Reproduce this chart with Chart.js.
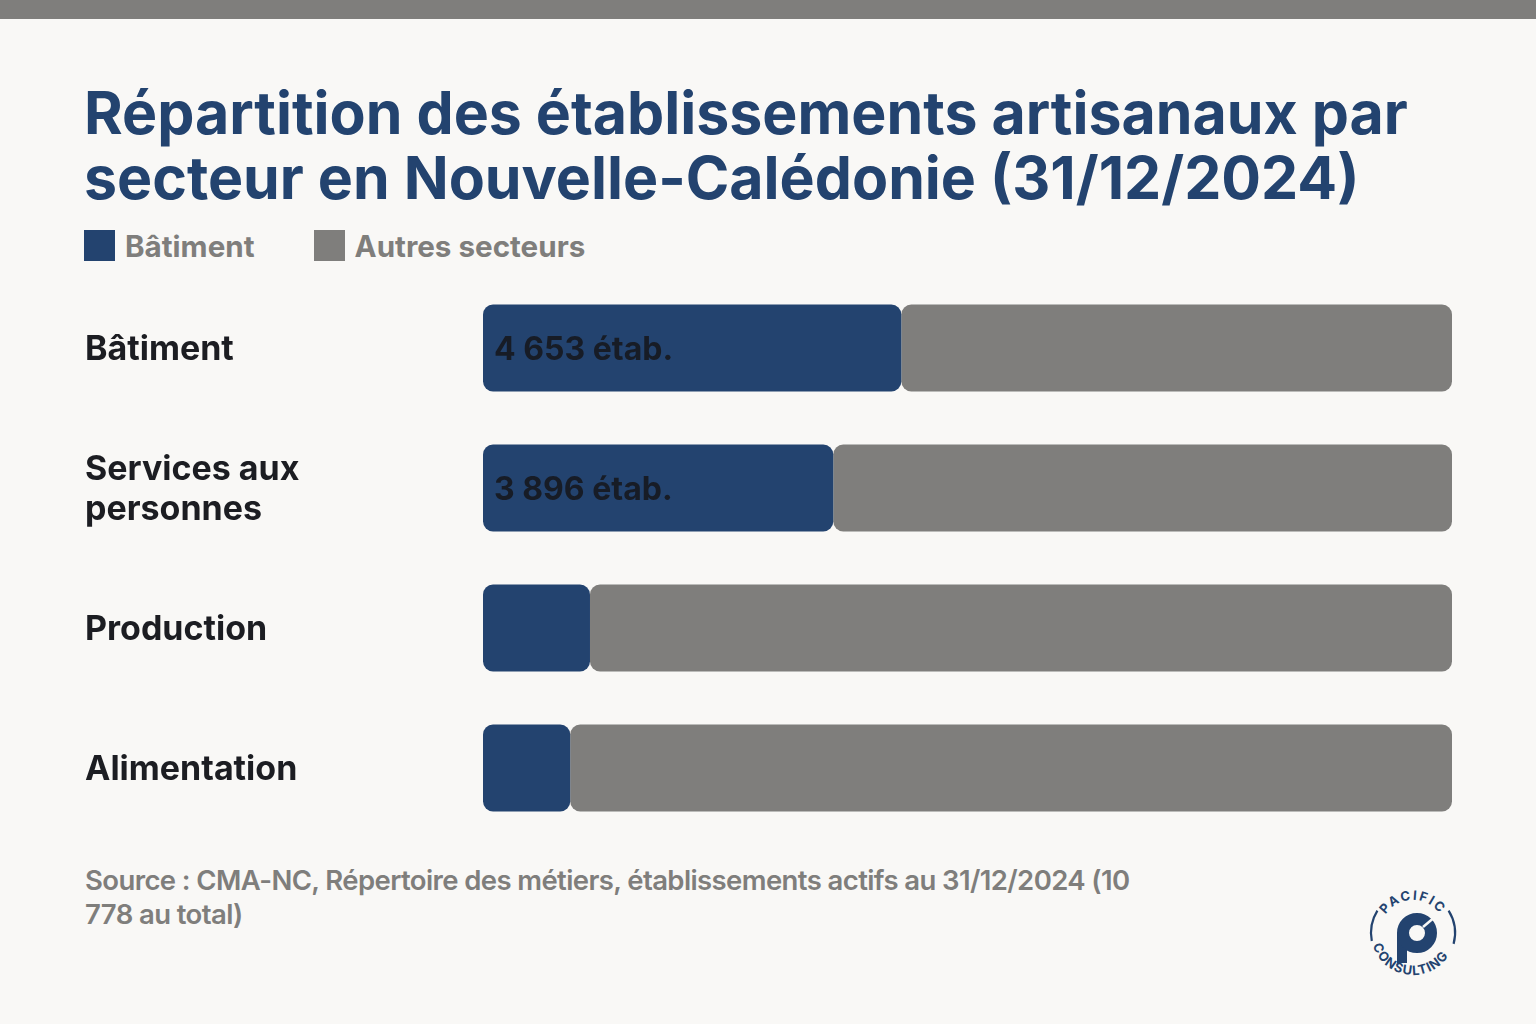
<!DOCTYPE html>
<html lang="fr">
<head>
<meta charset="utf-8">
<script src="https://cdn.jsdelivr.net/npm/chart.js@4.4.1/dist/chart.umd.min.js"></script>
<style>
  body { margin: 0; width: 1536px; height: 1024px; background: #f9f8f6; font-family: Inter, "Noto Sans", sans-serif; position: relative; overflow: hidden; }
  .bande { position: absolute; left: 0; top: 0; width: 1536px; height: 19px; background: #7f7e7c; }
  h1 { position: absolute; left: 84px; top: 80px; margin: 0; font-size: 59px; line-height: 65px; font-weight: 700; color: #23436f; white-space: nowrap; }
  .legende { position: absolute; left: 84px; top: 230px; display: flex; gap: 59px; }
  .item { display: flex; align-items: center; gap: 10px; font-size: 29.6px; font-weight: 700; color: #7f7e7c; height: 31px; }
  .item span { display: inline-block; width: 31px; height: 31px; }
  .graph { position: absolute; left: 0; top: 270px; width: 1536px; height: 574px; }
  .source { position: absolute; left: 85px; top: 863px; font-size: 27.5px; line-height: 34px; font-weight: 600; color: #7f7e7c; letter-spacing: -0.6px; white-space: nowrap; }
  .logo { position: absolute; left: 1360px; top: 880px; }
</style>
</head>
<body>
<div class="bande"></div>
<h1>Répartition des établissements artisanaux par<br>secteur en Nouvelle-Calédonie (31/12/2024)</h1>
<div class="legende" id="legende"></div>
<div class="graph"><canvas id="graficoBarras"></canvas></div>
<div class="source">Source : CMA-NC, Répertoire des métiers, établissements actifs au 31/12/2024 (10<br>778 au total)</div>
<svg class="logo" width="110" height="110" viewBox="0 0 110 110">
  <defs>
    <path id="arcHaut" d="M 20 53 A 33 33 0 0 1 86 53" />
    <path id="arcBas" d="M 11 53 A 42 42 0 0 0 95 53" />
  </defs>
  <!-- anel -->
  <path d="M 17.4 30.7 A 42 42 0 0 0 11.8 61" fill="none" stroke="#23436f" stroke-width="2.2" />
  <path d="M 93.6 63.9 A 42 42 0 0 0 88.6 30.7" fill="none" stroke="#23436f" stroke-width="2.2" />
  <text font-family="Inter" font-weight="700" font-size="13" fill="#23436f" letter-spacing="2"><textPath href="#arcHaut" startOffset="50%" text-anchor="middle">PACIFIC</textPath></text>
  <text font-family="Inter" font-weight="700" font-size="13" fill="#23436f" letter-spacing="1"><textPath href="#arcBas" startOffset="46%" text-anchor="middle">CONSULTING</textPath></text>
  <!-- letra p -->
  <rect x="37" y="53" width="10" height="30" fill="#23436f" />
  <circle cx="57" cy="53" r="14" fill="none" stroke="#23436f" stroke-width="12" />
  <line x1="63" y1="47" x2="76" y2="36" stroke="#f9f8f6" stroke-width="2.5" />
</svg>

<script>
// dados do grafico
const categorias = ['Bâtiment', 'Services aux personnes', 'Production', 'Alimentation'];
const valores = [4653, 3896, 1190, 970];
const total = 10778; // total de estabelecimentos
const rotulos = ['4 653 étab.', '3 896 étab.', '', '']; // texto dentro da barra azul
const nomesSeries = ['Bâtiment', 'Autres secteurs'];
const cores = ['#23436f', '#7f7e7c'];

const autres = valores.map(v => total - v); // o resto ate o total

// legenda em html
const legende = document.getElementById('legende');
nomesSeries.forEach((nome, i) => {
  const item = document.createElement('div');
  item.className = 'item';
  item.innerHTML = '<span style="background:' + cores[i] + '"></span>' + nome;
  legende.appendChild(item);
});

// escreve o rotulo dentro da barra
const rotuloBarra = {
  id: 'rotuloBarra',
  afterDatasetsDraw(chart) {
    const ctx = chart.ctx;
    const meta = chart.getDatasetMeta(0);
    ctx.save();
    ctx.font = '700 32px Inter';
    ctx.fillStyle = '#171c26';
    ctx.textAlign = 'left';
    ctx.textBaseline = 'middle';
    meta.data.forEach((bar, i) => {
      if (rotulos[i]) ctx.fillText(rotulos[i], bar.base + 11, bar.y + 2);
    });
    ctx.restore();
  }
};

const raio = { topLeft: 10, topRight: 10, bottomLeft: 10, bottomRight: 10 }; // cantos arredondados nos dois segmentos

new Chart(document.getElementById('graficoBarras'), {
  type: 'bar',
  data: {
    labels: categorias,
    datasets: [
      { label: nomesSeries[0], data: valores, backgroundColor: cores[0], borderRadius: raio, borderSkipped: false },
      { label: nomesSeries[1], data: autres, backgroundColor: cores[1], borderRadius: raio, borderSkipped: false }
    ]
  },
  options: {
    indexAxis: 'y',
    responsive: true,
    maintainAspectRatio: false,
    animation: false,
    barPercentage: 1,
    categoryPercentage: 0.621,
    layout: { padding: { left: 85, right: 84, top: 8, bottom: 6 } },
    plugins: {
      legend: { display: false },
      tooltip: { enabled: false }
    },
    scales: {
      x: { stacked: true, display: false, min: 0, max: total },
      y: {
        stacked: true,
        grid: { display: false },
        border: { display: false },
        afterFit(scale) {
          scale.width = 398; // largura fixa da coluna dos nomes
          scale.paddingTop = 0;
          scale.paddingBottom = 0;
        },
        ticks: {
          crossAlign: 'far',
          labelOffset: 2,
          color: '#1c1d22',
          font: { family: 'Inter', size: 34, weight: '700', lineHeight: 1.18 },
          callback(value) {
            const nome = categorias[value];
            return nome === 'Services aux personnes' ? ['Services aux', 'personnes'] : nome;
          }
        }
      }
    }
  },
  plugins: [rotuloBarra]
});
</script>
</body>
</html>
